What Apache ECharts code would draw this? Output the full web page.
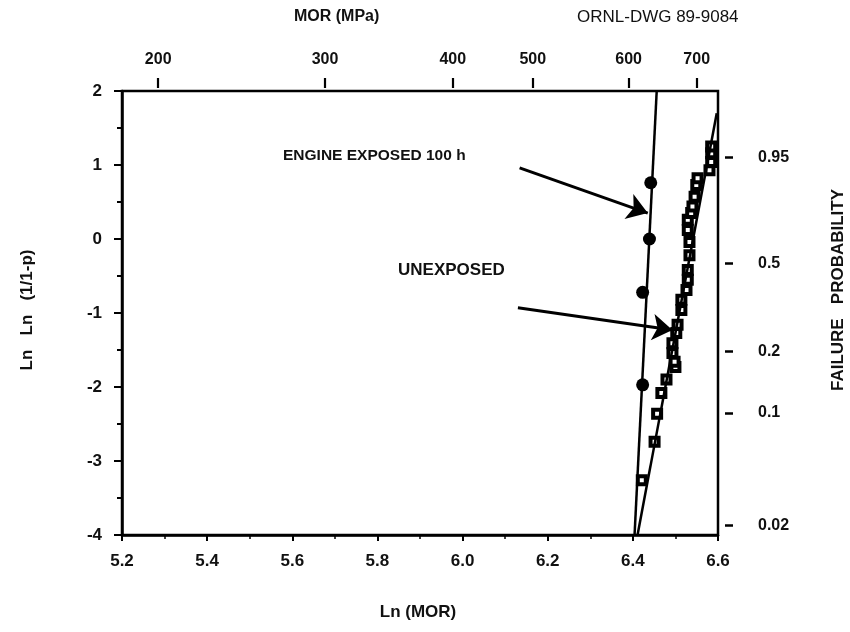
<!DOCTYPE html>
<html>
<head>
<meta charset="utf-8">
<script src="https://cdn.jsdelivr.net/npm/echarts@6/dist/echarts.min.js"></script>
<style>
html,body{margin:0;padding:0;background:#fff;}
#c{width:850px;height:632px;}
</style>
</head>
<body>
<div id="c"></div>
<script>
// Engine exposed 100 h (filled circles): Ln(MOR), Ln Ln(1/1-p)
var engineLnMOR = [6.442, 6.439, 6.423, 6.423];
var engineLnLn  = [0.76, 0.00, -0.72, -1.97];
// Unexposed (squares)
var unexpLnMOR = [6.421, 6.451, 6.457, 6.467, 6.479, 6.500, 6.498, 6.493, 6.493, 6.502, 6.505,
                  6.514, 6.514, 6.526, 6.529, 6.529, 6.533, 6.533, 6.529, 6.529, 6.537,
                  6.540, 6.545, 6.549, 6.552, 6.580, 6.584, 6.584, 6.584];
var unexpLnLn  = [-3.26, -2.74, -2.36, -2.08, -1.90, -1.73, -1.66, -1.54, -1.41, -1.27, -1.16,
                  -0.96, -0.82, -0.69, -0.55, -0.42, -0.22, -0.04, 0.12, 0.26, 0.35,
                  0.44, 0.57, 0.73, 0.82, 0.93, 1.04, 1.16, 1.25];
// Fitted Weibull lines (end points)
var engineFitX = [6.404, 6.456];
var engineFitY = [-4, 2];
var unexpFitX  = [6.411, 6.597];
var unexpFitY  = [-4, 1.7];
// Top axis: MOR (MPa) tick labels and their Ln positions
var topTickLabels = ['200', '300', '400', '500', '600', '700'];
var topTickPos    = [5.285, 5.677, 5.977, 6.165, 6.390, 6.550];
// Right axis: failure probability tick labels and their Ln Ln positions
var probLabels = ['0.95', '0.5', '0.2', '0.1', '0.02'];
var probPos    = [1.10, -0.33, -1.52, -2.35, -3.87];
// Annotation arrows (data coordinates)
var engineArrow = [[6.134, 0.96], [6.435, 0.35]];
var unexpArrow  = [[6.130, -0.93], [6.493, -1.23]];

function zip(a, b) { return a.map(function (v, i) { return [v, b[i]]; }); }

var FONT = 'Liberation Sans';
var chart = echarts.init(document.getElementById('c'), null, {renderer: 'canvas'});
var GL = 122, GT = 91, GW = 596, GH = 444;

chart.setOption({
  animation: false,
  backgroundColor: '#fff',
  textStyle: {fontFamily: FONT},
  grid: {left: GL, top: GT, width: GW, height: GH, show: true, borderColor: '#000', borderWidth: 2.5, backgroundColor: 'transparent'},
  xAxis: [{
    type: 'value', position: 'bottom', min: 5.2, max: 6.6, interval: 0.2,
    axisLine: {show: true, onZero: false, lineStyle: {color: '#000', width: 2.5}},
    axisTick: {show: true, inside: false, length: 6, lineStyle: {color: '#000', width: 2}},
    minorTick: {show: true, splitNumber: 2, length: 4, lineStyle: {color: '#000', width: 1.5}},
    splitLine: {show: false},
    axisLabel: {color: '#111', fontSize: 17, fontWeight: 'bold', margin: 18, fontFamily: FONT,
      formatter: function (v) { return v.toFixed(1); }}
  }, {
    type: 'value', position: 'top', min: 5.2, max: 6.6, offset: 3,
    axisLine: {show: false, onZero: false},
    axisTick: {show: true, inside: false, length: 10, customValues: topTickPos, lineStyle: {color: '#000', width: 2.2}},
    splitLine: {show: false},
    axisLabel: {color: '#111', fontSize: 16, fontWeight: 'bold', margin: 20, fontFamily: FONT,
      customValues: topTickPos,
      formatter: function (v) { var i = topTickPos.indexOf(v); return i >= 0 ? topTickLabels[i] : ''; }}
  }],
  yAxis: [{
    type: 'value', position: 'left', min: -4, max: 2, interval: 1,
    axisLine: {show: true, onZero: false, lineStyle: {color: '#000', width: 2.5}},
    axisTick: {show: true, inside: false, length: 8, lineStyle: {color: '#000', width: 2}},
    minorTick: {show: true, splitNumber: 2, length: 5, lineStyle: {color: '#000', width: 2}},
    splitLine: {show: false},
    axisLabel: {color: '#111', fontSize: 17, fontWeight: 'bold', margin: 20, fontFamily: FONT}
  }, {
    type: 'value', position: 'right', min: -4, max: 2, offset: 7,
    axisLine: {show: false, onZero: false},
    axisTick: {show: true, inside: false, length: 8, customValues: probPos, lineStyle: {color: '#000', width: 2.5}},
    splitLine: {show: false},
    axisLabel: {color: '#111', fontSize: 16, fontWeight: 'bold', margin: 33, fontFamily: FONT,
      customValues: probPos,
      formatter: function (v) { var i = probPos.indexOf(v); return i >= 0 ? probLabels[i] : ''; }}
  }],
  graphic: [
    {type: 'text', left: 294, top: 9, style: {text: 'MOR (MPa)', font: 'bold 16px ' + FONT, fill: '#111'}},
    {type: 'text', left: 577, top: 9, style: {text: 'ORNL-DWG 89-9084', font: '17px ' + FONT, fill: '#111'}},
    {type: 'text', x: 27, y: 310, rotation: Math.PI / 2,
      style: {text: 'Ln   Ln   (1/1-p)', font: 'bold 17px ' + FONT, fill: '#111', align: 'center', verticalAlign: 'middle'}},
    {type: 'text', x: 838, y: 290, rotation: Math.PI / 2,
      style: {text: 'FAILURE   PROBABILITY', font: 'bold 17px ' + FONT, fill: '#111', align: 'center', verticalAlign: 'middle'}},
    {type: 'text', x: 418, y: 612,
      style: {text: 'Ln (MOR)', font: 'bold 17px ' + FONT, fill: '#111', align: 'center', verticalAlign: 'middle'}},
    {type: 'text', x: 283, y: 156,
      style: {text: 'ENGINE EXPOSED 100 h', font: 'bold 15.5px ' + FONT, fill: '#111', align: 'left', verticalAlign: 'middle'}},
    {type: 'text', x: 398, y: 270,
      style: {text: 'UNEXPOSED', font: 'bold 17px ' + FONT, fill: '#111', align: 'left', verticalAlign: 'middle'}}
  ],
  series: [
    {
      type: 'line', xAxisIndex: 0, yAxisIndex: 0, data: zip(engineFitX, engineFitY),
      symbol: 'none', lineStyle: {color: '#000', width: 2.5}, silent: true,
      markLine: {
        silent: true, symbol: ['none', 'arrow'], symbolSize: 20,
        lineStyle: {color: '#000', width: 3, type: 'solid'}, label: {show: false},
        emphasis: {disabled: true},
        data: [
          [{coord: engineArrow[0]}, {coord: engineArrow[1]}],
          [{coord: unexpArrow[0]}, {coord: unexpArrow[1]}]
        ]
      }
    },
    {
      type: 'line', xAxisIndex: 0, yAxisIndex: 0, data: zip(unexpFitX, unexpFitY),
      symbol: 'none', lineStyle: {color: '#000', width: 2.5}, silent: true
    },
    {
      type: 'scatter', xAxisIndex: 0, yAxisIndex: 0, data: zip(unexpLnMOR, unexpLnLn),
      symbol: 'rect', symbolSize: 8,
      itemStyle: {color: '#fff', borderColor: '#000', borderWidth: 4, opacity: 1}
    },
    {
      type: 'scatter', xAxisIndex: 0, yAxisIndex: 0, data: zip(engineLnMOR, engineLnLn),
      symbol: 'circle', symbolSize: 13,
      itemStyle: {color: '#000', opacity: 1}
    }
  ]
});
</script>
</body>
</html>
